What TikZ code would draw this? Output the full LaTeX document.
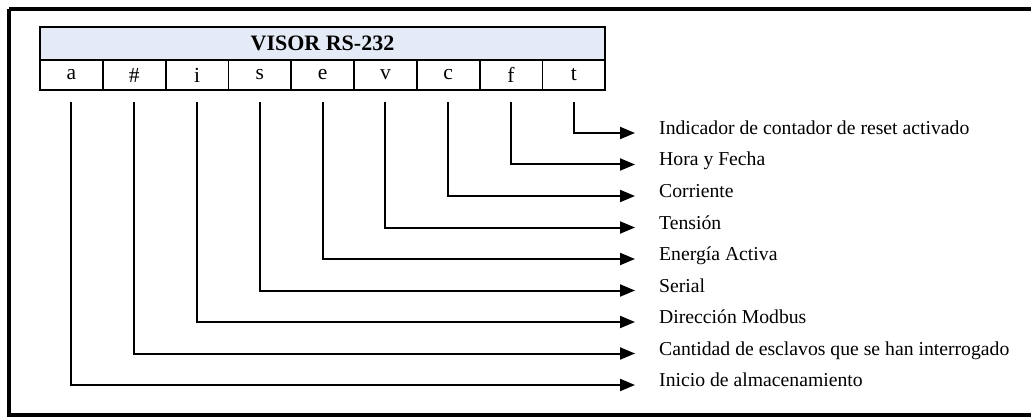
\documentclass[tikz,border=0pt]{standalone}
\usepackage{fontspec}
\setmainfont{Liberation Serif}
\usetikzlibrary{arrows.meta}
\definecolor{headfill}{RGB}{228,235,246}
\tikzset{
  frame/.style={line width=4pt},
  cell/.style={draw, line width=1.8pt, minimum width=62.8pt, minimum height=30pt,
    inner sep=0pt, font=\fontsize{21.5}{25}\selectfont},
  head/.style={draw, line width=1.8pt, fill=headfill, minimum width=565pt,
    minimum height=33pt, inner sep=0pt, font=\fontsize{22}{26}\selectfont\bfseries},
  conn/.style={line width=2pt, -{Triangle[length=15pt,width=12pt]}, shorten <=11pt},
  lbl/.style={anchor=base west, inner sep=0pt, font=\fontsize{19.7}{24}\selectfont}
}
\begin{document}
\begin{tikzpicture}[x=1pt,y=-1pt]
\useasboundingbox (0,0) rectangle (1031,417);
% outer frame (runs past the right edge of the page)
\draw[frame] (9,9.5) -- (1040,9.5);
\draw[frame] (9,9.5) -- (9,415) -- (1040,415);

% title bar and field cells
\node[head] (hd) at (322.5,43.5) {VISOR RS-232};
\foreach \k/\t [count=\i from 0] in {ca/a,cn/\#,ci/i,cs/s,ce/e,cv/v,cc/c,cf/f,ct/t}
  \node[cell] (\k) at ({40+31.4+62.8*\i},75) {\t};

% field descriptions with arrow end points
\foreach \k/\yy/\txt in {
  ct/133/Indicador de contador de reset activado,
  cf/164.5/Hora y Fecha,
  cc/196/Corriente,
  cv/227.5/Tensión,
  ce/259/Energía Activa,
  cs/290.5/Serial,
  ci/322/Dirección Modbus,
  cn/353.5/Cantidad de esclavos que se han interrogado,
  ca/385/Inicio de almacenamiento}
{
  \coordinate (e\k) at (635,\yy);
  \node[lbl] (l\k) at (659,\yy+1.5) {\txt};
  \draw[conn] (\k.south) |- (e\k);
}
\end{tikzpicture}
\end{document}
